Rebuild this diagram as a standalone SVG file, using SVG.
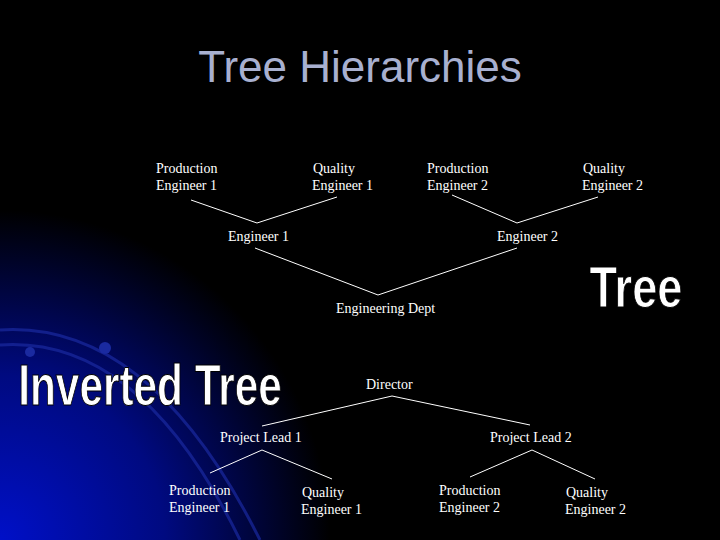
<svg xmlns="http://www.w3.org/2000/svg" width="720" height="540" viewBox="0 0 720 540">
<defs>
<radialGradient id="bg" cx="0" cy="540" r="330" gradientUnits="userSpaceOnUse">
<stop offset="0" stop-color="#0010c8"/><stop offset="0.5" stop-color="#000a80"/><stop offset="1" stop-color="#000000"/>
</radialGradient>
<style>
.t{font-family:"Liberation Serif",serif;font-size:14px;fill:#ffffff}
.c{stroke:#ffffff;stroke-width:1;fill:none}
.big{font-family:"Liberation Sans",Arial,sans-serif;font-weight:bold;fill:#ffffff;stroke:#000;stroke-width:1}
.arc{fill:none;stroke:#1a2aa0;stroke-width:3;opacity:0.7}
</style>
</defs>
<rect width="720" height="540" fill="#000"/>
<rect width="720" height="540" fill="url(#bg)"/>
<path class="arc" d="M0 330 Q150 320 260 540"/>
<path class="arc" d="M0 345 Q140 335 240 540"/>
<circle cx="105" cy="348" r="6" fill="#1a2aa0"/>
<circle cx="30" cy="352" r="5" fill="#1a2aa0"/>
<text x="360" y="82" text-anchor="middle" font-family="'Liberation Sans',Arial,sans-serif" font-size="44" fill="#a8b0d0">Tree Hierarchies</text>
<text class="big" x="636" y="307" text-anchor="middle" font-size="58" transform="translate(636 0) scale(0.78 1) translate(-636 0)">Tree</text>
<text class="big" x="150" y="405" text-anchor="middle" font-size="58" transform="translate(150 0) scale(0.73 1) translate(-150 0)">Inverted Tree</text>
<g id="connectors">
<polyline class="c" points="191,200 257,223 337,197"/>
<polyline class="c" points="452,195 517,223 598,197"/>
<polyline class="c" points="255,248 378,295 517,248"/>
<polyline class="c" points="262,426 392,396 530,425"/>
<polyline class="c" points="210,473 262,450 332,479"/>
<polyline class="c" points="470,477 532,450 595,479"/>
</g>
<g id="t-pe1"><text class="t" x="156" y="173">Production</text><text class="t" x="156" y="190">Engineer 1</text></g>
<g id="t-qe1"><text class="t" x="313" y="173">Quality</text><text class="t" x="312" y="190">Engineer 1</text></g>
<g id="t-pe2"><text class="t" x="427" y="173">Production</text><text class="t" x="427" y="190">Engineer 2</text></g>
<g id="t-qe2"><text class="t" x="583" y="173">Quality</text><text class="t" x="582" y="190">Engineer 2</text></g>
<g id="t-e1"><text class="t" x="228" y="241">Engineer 1</text></g>
<g id="t-e2"><text class="t" x="497" y="241">Engineer 2</text></g>
<g id="dept"><text class="t" x="336" y="313">Engineering Dept</text></g>
<g id="director"><text class="t" x="366" y="389">Director</text></g>
<g id="pl1"><text class="t" x="220" y="442">Project Lead 1</text></g>
<g id="pl2"><text class="t" x="490" y="442">Project Lead 2</text></g>
<g id="b-pe1"><text class="t" x="169" y="495">Production</text><text class="t" x="169" y="512">Engineer 1</text></g>
<g id="b-qe1"><text class="t" x="302" y="497">Quality</text><text class="t" x="301" y="514">Engineer 1</text></g>
<g id="b-pe2"><text class="t" x="439" y="495">Production</text><text class="t" x="439" y="512">Engineer 2</text></g>
<g id="b-qe2"><text class="t" x="566" y="497">Quality</text><text class="t" x="565" y="514">Engineer 2</text></g>
</svg>
